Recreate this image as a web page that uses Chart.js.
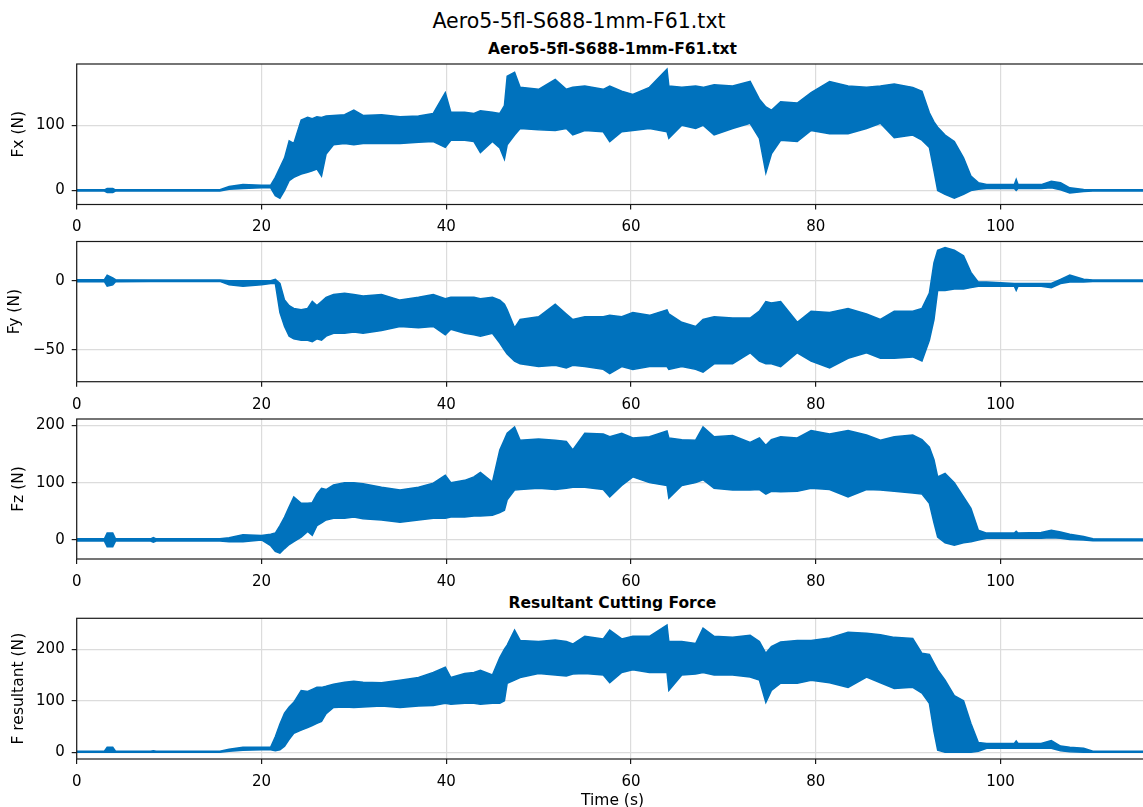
<!DOCTYPE html>
<html><head><meta charset="utf-8">
<script src="https://cdn.jsdelivr.net/npm/chart.js@4.4.1/dist/chart.umd.min.js"></script>
<style>
html,body{margin:0;padding:0;background:#fff;width:1143px;height:807px;overflow:hidden;position:relative;font-family:'DejaVu Sans',sans-serif;}
canvas{position:absolute;left:0;}
.t{position:absolute;white-space:nowrap;transform:translateX(-50%);line-height:1;color:#000;}
</style></head><body>
<div class="t" style="left:579px;top:11px;font-size:20.5px;">Aero5-5fl-S688-1mm-F61.txt</div>
<div class="t" style="left:612.5px;top:41.5px;font-size:15.5px;font-weight:bold;">Aero5-5fl-S688-1mm-F61.txt</div>
<div class="t" style="left:612.5px;top:595.5px;font-size:15.5px;font-weight:bold;">Resultant Cutting Force</div>
<canvas id="c0"></canvas><canvas id="c1"></canvas><canvas id="c2"></canvas><canvas id="c3"></canvas>
<script>
// ---- data (time in s, envelope of each force signal in N) ----
const T = [0, 3, 3.3, 3.9, 4.2, 8, 8.3, 8.6, 15.5, 16.5,
  18, 20, 21, 21.5, 22, 22.5, 23, 23.5, 24.3, 25,
  25.5, 26, 26.5, 27, 27.8, 29, 30, 31, 33, 35,
  37, 38.6, 39.9, 40.5, 42, 43, 43.7, 45, 45.8, 46.3,
  46.6, 47.4, 48, 50, 51.8, 53, 53.7, 55, 57, 57.7,
  59, 60.2, 62, 63.9, 64.1, 65.5, 67, 67.8, 69, 71,
  72.9, 73.9, 74.6, 75.2, 76.2, 78, 79.5, 81.5, 83.5, 85.5,
  87, 88.5, 90.5, 91.5, 92.3, 92.8, 93.2, 94, 95, 96,
  96.8, 97.6, 98.5, 101.5, 101.7, 101.9, 104.4, 105.5, 106.5, 107.5,
  109, 110, 116];

const fxHi = [1, 1, 3, 3, 1, 1, 1, 1, 1, 6,
  9, 8, 8, 20, 35, 50, 76, 72, 108, 112,
  110, 113, 112, 114, 115, 116, 123, 115, 116, 113,
  114, 118, 150, 120, 120, 118, 122, 120, 118, 130,
  175, 181, 158, 155, 170, 155, 158, 160, 155, 160,
  152, 147, 158, 186, 160, 158, 160, 158, 162, 160,
  167, 140, 128, 123, 136, 134, 150, 167, 160, 158,
  160, 163, 158, 152, 119, 105, 97, 85, 75, 50,
  22, 12, 9, 9, 17, 9, 9, 14, 12, 4,
  1.5, 1, 1];
const fxLo = [-1, -1, -3, -3, -1, -1, -1, -1, -1, 2,
  3, 4, 4, -8, -12, 0, 15, 20, 25, 28,
  30, 33, 22, 56, 70, 72, 70, 72, 72, 72,
  74, 75, 66, 77, 77, 75, 58, 75, 65, 48,
  70, 85, 95, 93, 92, 95, 85, 92, 90, 75,
  90, 92, 95, 90, 80, 100, 95, 100, 85, 95,
  103, 80, 27, 56, 77, 75, 92, 87, 87, 95,
  103, 81, 85, 77, 66, 30, 0, -6, -12, -6,
  0, 2, 3, 3, 0, 3, 3, 4, 1, -4,
  -1.5, -1, -1];

const fyHi = [0.7, 0.7, 4, 2, 0.7, 0.5, 0.5, 0.5, 0.5, 0,
  0, 0, 0, 1, -2, -14, -18, -20, -21, -20,
  -15, -18, -15, -12, -10, -9, -10, -11, -10, -14,
  -12, -10, -13, -12, -12, -12, -13, -12, -14, -17,
  -21, -34, -28, -26, -17, -24, -28, -26, -26, -25,
  -26, -23, -25, -21, -24, -30, -33, -28, -26, -27,
  -27, -22, -15, -16, -15, -30, -22, -23, -20, -24,
  -28, -22, -22, -20, -9, 13, 22, 24, 22, 18,
  6, -1, -1, -2, -2, -2, -2, -2, 1, 4,
  1, 0.5, 0.5];
const fyLo = [-0.7, -0.7, -4, -3, -0.7, -0.5, -0.5, -0.5, -0.5, -3,
  -4, -3, -2, -2, -23, -33, -40, -42, -43, -43,
  -44, -42, -43, -40, -38, -38, -37, -38, -36, -33,
  -34, -33, -39, -35, -38, -39, -40, -38, -45, -50,
  -53, -58, -60, -62, -61, -63, -61, -62, -64, -67,
  -62, -64, -62, -62, -64, -62, -64, -66, -60, -60,
  -52, -58, -60, -60, -62, -52, -58, -63, -56, -52,
  -56, -56, -55, -58, -43, -28, -7, -7, -6, -6,
  -5, -4, -4, -4, -7, -4, -4, -5, -2, -1,
  -1, -0.5, -0.5];

const fzHi = [2, 2, 12, 12, 2, 2, 4, 2, 2, 4,
  9, 8, 10, 12, 25, 40, 58, 75, 64, 64,
  65, 80, 90, 88, 96, 100, 100, 98, 92, 87,
  92, 99, 113, 100, 104, 110, 118, 101, 157, 175,
  186, 197, 174, 176, 174, 172, 157, 186, 185, 180,
  186, 178, 180, 190, 178, 175, 174, 197, 180, 182,
  170, 178, 165, 175, 180, 178, 191, 185, 191, 183,
  174, 180, 183, 175, 162, 140, 110, 116, 100, 75,
  55, 17, 12, 12, 15, 12, 13, 17, 14, 10,
  6, 2, 1.5];
const fzLo = [-2, -2, -12, -12, -2, -2, -4, -2, -2, -3,
  -3, 0, -10, -20, -23, -15, -8, -3, 5, 15,
  8, 25, 30, 35, 38, 38, 40, 37, 35, 31,
  35, 38, 38, 40, 40, 42, 42, 43, 48, 52,
  70, 87, 88, 90, 88, 90, 92, 92, 88, 75,
  95, 110, 100, 95, 73, 95, 100, 105, 90, 87,
  87, 88, 80, 85, 84, 85, 90, 88, 75, 88,
  87, 85, 82, 80, 64, 30, 5, -5, -9, -5,
  -3, 0, 3, 3, 3, 3, 3, 4, 3, 1,
  0, -1.5, -1.5];

const frHi = [2, 2, 10, 10, 2, 2, 3, 2, 2, 6,
  10, 10, 10, 30, 55, 76, 88, 97, 120, 118,
  122, 126, 126, 128, 132, 136, 138, 136, 135, 140,
  145, 155, 165, 145, 153, 155, 159, 150, 184, 200,
  208, 237, 217, 215, 218, 215, 210, 225, 220, 237,
  220, 225, 225, 247, 215, 215, 211, 241, 225, 223,
  227, 215, 192, 205, 214, 217, 217, 222, 233, 231,
  228, 223, 221, 192, 190, 173, 160, 140, 110, 100,
  56, 19, 17, 17, 22, 17, 17, 23, 12, 10,
  8, 2, 2];
const frLo = [0, 0, 0, 0, 0, 0, 0, 0, 0, 2,
  4, 5, 5, 3, 5, 12, 25, 37, 43, 48,
  52, 56, 60, 75, 87, 88, 87, 88, 90, 87,
  90, 91, 95, 93, 95, 95, 93, 95, 95, 100,
  134, 140, 145, 153, 150, 148, 152, 153, 150, 135,
  155, 160, 155, 155, 120, 150, 152, 155, 150, 150,
  146, 140, 97, 120, 134, 134, 140, 135, 126, 146,
  135, 124, 126, 115, 95, 40, 4, 0, 0, 0,
  0, 2, 8, 8, 8, 8, 8, 8, 3, 1,
  0, 0, 0];

const xTicks = [0, 20, 40, 60, 80, 100];
const fxTicks = [0, 100];
const fyTicks = [-50, 0];
const fzTicks = [0, 100, 200];
const frTicks = [0, 100, 200];
const yLabels = ['Fx (N)', 'Fy (N)', 'Fz (N)', 'F resultant (N)'];
const xLabel = 'Time (s)';

// ---- layout ----
const panels = [
  {id:'c0', hi:fxHi, lo:fxLo, ticks:fxTicks, label:yLabels[0], min:-21.5, max:193.8, top:64, h:140.5, tPad:9.7, xh:30, xt:false},
  {id:'c1', hi:fyHi, lo:fyLo, ticks:fyTicks, label:yLabels[1], min:-72.9, max:28.3, top:241.5, h:140.2, tPad:5.7, xh:30, xt:false},
  {id:'c2', hi:fzHi, lo:fzLo, ticks:fzTicks, label:yLabels[2], min:-33.2, max:211, top:419, h:140, tPad:9.7, xh:30, xt:false},
  {id:'c3', hi:frHi, lo:frLo, ticks:frTicks, label:yLabels[3], min:-13, max:260, top:618.3, h:140.7, tPad:9.7, xh:51, xt:true}
];
const BLUE = '#0072BD';
const W = 1160, RIGHT = 1148.3, LEFT = 76.7;
Chart.defaults.font.family = "'DejaVu Sans', sans-serif";
Chart.defaults.color = '#000';

const spines = {id:'spines', afterDatasetsDraw(chart){
  const a = chart.chartArea, c = chart.ctx;
  c.save(); c.strokeStyle = '#1a1a1a'; c.lineWidth = 1.2;
  c.strokeRect(a.left, a.top, a.right - a.left, a.bottom - a.top);
  c.restore();
}};
const fmt = v => v < 0 ? '\u2212' + Math.abs(v) : String(v);
const noPad = s => { s.paddingTop = 0; s.paddingBottom = 0; s.paddingLeft = 0; s.paddingRight = 0; };

panels.forEach(p => {
  const cv = document.getElementById(p.id);
  const top = Math.floor(p.top) - 6;
  const padTop = p.top - top;
  const H = Math.ceil(padTop + p.h + p.xh);
  const xh = H - padTop - p.h;
  cv.width = W; cv.height = H;
  cv.style.width = W + 'px'; cv.style.height = H + 'px'; cv.style.top = top + 'px';
  const gridCommon = {color:'#dcdcdc', lineWidth:1.2, tickLength:5, tickColor:'#1a1a1a', tickWidth:1.2};
  new Chart(cv, {
    type:'line',
    data:{datasets:[
      {data:T.map((t,i)=>({x:t, y:p.hi[i]})), borderColor:BLUE, backgroundColor:BLUE, borderWidth:1.5, pointRadius:0, fill:'+1', tension:0},
      {data:T.map((t,i)=>({x:t, y:p.lo[i]})), borderColor:BLUE, backgroundColor:BLUE, borderWidth:1.5, pointRadius:0, fill:false, tension:0}
    ]},
    options:{
      responsive:false, animation:false, devicePixelRatio:1,
      layout:{autoPadding:false, padding:{top:padTop, right:W - RIGHT, left:0, bottom:0}},
      plugins:{legend:{display:false}, tooltip:{enabled:false}, title:{display:false}},
      scales:{
        x:{type:'linear', min:0, max:116,
          afterFit:s=>{s.height = xh; noPad(s);},
          afterBuildTicks:s=>{s.ticks = xTicks.map(v=>({value:v}));},
          grid:gridCommon, border:{display:false},
          ticks:{padding:9, font:{size:15}, color:'#000', maxRotation:0, autoSkip:false, callback:fmt},
          title:{display:p.xt, text:xLabel, font:{size:15.5}, color:'#000', padding:{top:0, bottom:0}}},
        y:{type:'linear', min:p.min, max:p.max,
          afterFit:s=>{s.width = LEFT; noPad(s);},
          afterBuildTicks:s=>{s.ticks = p.ticks.map(v=>({value:v}));},
          grid:gridCommon, border:{display:false},
          ticks:{padding:7, font:{size:15}, color:'#000', callback:fmt},
          title:{display:true, text:p.label, font:{size:15.5}, color:'#000', padding:{top:p.tPad, bottom:0}}}
      }
    },
    plugins:[spines]
  });
});
</script>
</body></html>
